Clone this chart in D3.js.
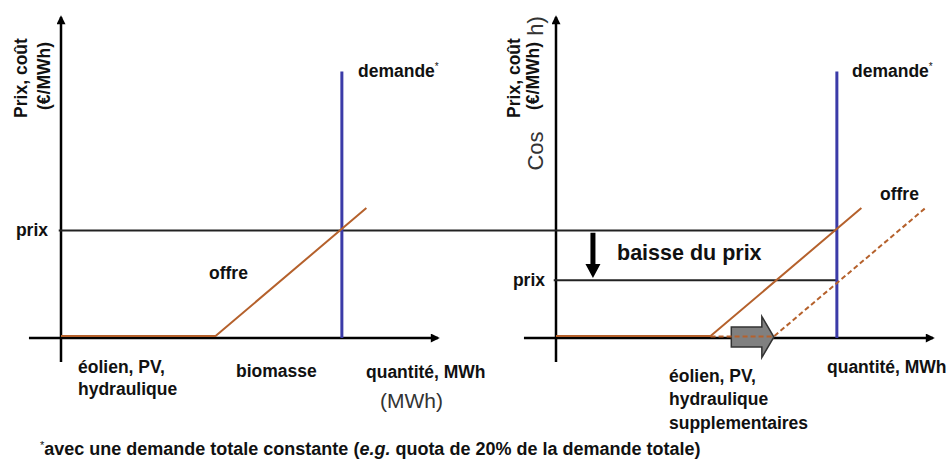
<!DOCTYPE html>
<html>
<head>
<meta charset="utf-8">
<script src="https://cdn.jsdelivr.net/npm/d3@7"></script>
<style>
    body { margin: 0; background: #fff; }
    svg { display: block; font-family: "Liberation Sans", Arial, sans-serif; }
    .lbl { font-size: 17.5px; font-weight: bold; fill: #111; }
    .thin { font-weight: normal; fill: #333; }
</style>
</head>
<body>
<script>
// quantities and prices in abstract units (0..10 on both axes)
const demande = 7.45;          // vertical demand line (same quantity both panels)
const demandeTop = 8.3;
const prixAvant = 3.35;        // price before extra renewables
const prixApres = 1.8;         // price after
const offre = [[0, 0.06], [4.1, 0.06], [8.1, 4.05]];
const offreDecalee = [[4.1, 0.05], [5.78, 0.05], [9.8, 4.05]];
const flecheGrise = [4.65, 5.46, 5.78];   // shaft start, head start, tip
const flecheBaisse = [0.98, 3.28, 1.87];  // quantity, from price, to price

const W = 948, H = 461;
const svg = d3.select("body").append("svg").attr("width", W).attr("height", H);

let xL = d3.scaleLinear().domain([0, 10]).range([61, 438]);
let xR = d3.scaleLinear().domain([0, 10]).range([556, 933]);
let y = d3.scaleLinear().domain([0, 10]).range([338, 17]);

// arrow head for axes
svg.append("defs").append("marker")
    .attr("id", "tip").attr("viewBox", "0 0 10 10")
    .attr("refX", 8).attr("refY", 5)
    .attr("markerWidth", 11).attr("markerHeight", 9)
    .attr("markerUnits", "userSpaceOnUse")
    .attr("orient", "auto")
    .append("path").attr("d", "M0,0L10,5L0,10z").attr("fill", "#000");

let line = d3.line();

function drawAxes(x) {
    svg.append("path").attr("d", line([[x(0), y(-0.75)], [x(0), y(10)]]))
        .attr("stroke", "#000").attr("stroke-width", 2.5).attr("marker-end", "url(#tip)");
    svg.append("path").attr("d", line([[x(-0.85), y(0)], [x(10), y(0)]]))
        .attr("stroke", "#000").attr("stroke-width", 2.5).attr("marker-end", "url(#tip)");
}
drawAxes(xL);
drawAxes(xR);

// price lines
svg.append("path").attr("d", line([[xL(-0.06), y(prixAvant)], [xR(demande), y(prixAvant)]]))
    .attr("stroke", "#222").attr("stroke-width", 2).attr("fill", "none");
svg.append("path").attr("d", line([[xR(-0.06), y(prixApres)], [xR(demande), y(prixApres)]]))
    .attr("stroke", "#222").attr("stroke-width", 2).attr("fill", "none");

// grey block arrow (shift of supply)
let yc = y(0) - 1;
let g0 = xR(flecheGrise[0]), g1 = xR(flecheGrise[1]), g2 = xR(flecheGrise[2]);
svg.append("path")
    .attr("d", `M${g0},${yc - 10}L${g1},${yc - 10}L${g1},${yc - 20.5}L${g2},${yc}L${g1},${yc + 20.5}L${g1},${yc + 10}L${g0},${yc + 10}Z`)
    .attr("fill", "#808080").attr("stroke", "#333").attr("stroke-width", 1.5);

// demand
[xL, xR].forEach(function (x) {
    svg.append("path").attr("d", line([[x(demande), y(0)], [x(demande), y(demandeTop)]]))
        .attr("stroke", "#3b3ba8").attr("stroke-width", 3);
});

// supply curves
[xL, xR].forEach(function (x) {
    svg.append("path").attr("d", line(offre.map(d => [x(d[0]), y(d[1])])))
        .attr("stroke", "#b5612c").attr("stroke-width", 2).attr("fill", "none");
});
svg.append("path").attr("d", line(offreDecalee.map(d => [xR(d[0]), y(d[1])])))
    .attr("stroke", "#b5612c").attr("stroke-width", 2).attr("fill", "none")
    .attr("stroke-dasharray", "5,3");

// price drop arrow
let bx = xR(flecheBaisse[0]), by0 = y(flecheBaisse[1]), by1 = y(flecheBaisse[2]);
svg.append("path")
    .attr("d", `M${bx - 2.5},${by0}L${bx + 2.5},${by0}L${bx + 2.5},${by1 - 14}L${bx + 7.5},${by1 - 14}L${bx},${by1}L${bx - 7.5},${by1 - 14}L${bx - 2.5},${by1 - 14}Z`)
    .attr("fill", "#000");

// texts
function txt(x, yy, s, cls) {
    return svg.append("text").attr("x", x).attr("y", yy).attr("class", cls || "lbl").text(s);
}
function vtxt(x, yy, s, cls) {
    return svg.append("text").attr("transform", `translate(${x},${yy}) rotate(-90)`)
        .attr("text-anchor", "middle").attr("class", cls || "lbl").text(s);
}
function demandeLbl(x) {
    let t = svg.append("text").attr("x", x).attr("y", 77).attr("class", "lbl");
    t.append("tspan").text("demande");
    t.append("tspan").attr("dy", -7).style("font-size", "10px").style("font-weight", "normal").text("*");
}

// left panel
vtxt(27, 78, "Prix, coût");
vtxt(50, 76, "(€/MWh)");
txt(48, 236, "prix").attr("text-anchor", "end");
txt(209, 279, "offre");
demandeLbl(358);
txt(78, 373, "éolien, PV,");
txt(78, 395, "hydraulique");
txt(236, 377, "biomasse");
txt(366, 378, "quantité, MWh");
txt(380, 408, "(MWh)", "lbl thin").style("font-size", "21px");

// right panel
vtxt(520, 78, "Prix, coût");
vtxt(539, 76, "(€/MWh)");
vtxt(543, 151, "Cos", "lbl thin").style("font-size", "22px");
vtxt(543, 26, "h)", "lbl thin").style("font-size", "22px");
txt(545, 286, "prix").attr("text-anchor", "end");
txt(617, 260, "baisse du prix").style("font-size", "21.5px");
txt(880, 200, "offre");
demandeLbl(852);
txt(669, 382, "éolien, PV,");
txt(669, 405, "hydraulique");
txt(669, 429, "supplementaires");
txt(827, 373, "quantité, MWh");

// footnote
let fn = svg.append("text").attr("x", 40).attr("y", 455).attr("class", "lbl").style("font-size", "18px");
fn.append("tspan").attr("dy", -6).style("font-size", "11px").style("font-weight", "normal").text("*");
fn.append("tspan").attr("dy", 6).text("avec une demande totale constante (");
fn.append("tspan").style("font-style", "italic").text("e.g.");
fn.append("tspan").text(" quota de 20% de la demande totale)");
</script>
</body>
</html>
